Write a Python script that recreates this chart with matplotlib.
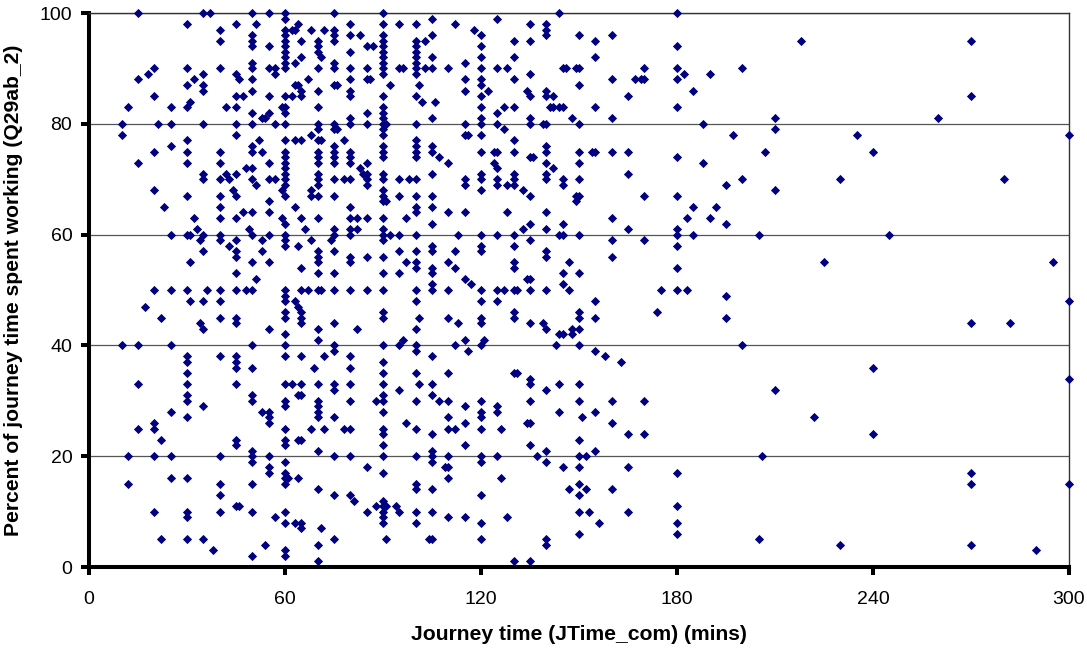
import matplotlib
matplotlib.use("Agg")
import matplotlib.pyplot as plt

plt.rcParams['font.family'] = ['Liberation Sans', 'DejaVu Sans']

# Journey times (mins) observed at each percent level
t100 = [15,35,37,50,55,60,75,90,144,180]
t99 = [60,105,125]
t98 = [30,45,51,64,80,90,95,100,112,135,140]
t97 = [40,60,62,63,68,72,75,118,140]
t96 = [50,60,75,80,83,90,105,120,140,150,160]
t95 = [40,50,60,65,70,75,90,100,103,130,135,155,218,270]
t94 = [50,55,60,70,85,87,90,100,120,180]
t93 = [60,70,80,90,100]
t92 = [60,65,71,90,100,105,120,130,155]
t91 = [50,60,63,75,90,100,115]
t90 = [20,30,40,50,55,57,60,70,75,80,85,90,95,96,100,103,105,110,120,125,128,145,146,149,150,170,180,200]
t89 = [18,35,45,57,90,100,135,182,190]
t88 = [15,32,46,50,67,80,85,86,115,120,130,160,167,169,170,180]
t87 = [30,35,63,64,75,76,92,101,120,150]
t86 = [35,50,65,70,80,115,122,134,140,185]
t85 = [20,45,47,55,60,62,65,80,90,100,120,135,140,142,165,270]
t84 = [31,102,106]
t83 = [12,25,30,42,45,59,60,70,90,120,127,130,141,142,144,145,155,180]
t82 = [50,55,60,85,90,125]
t81 = [53,54,80,90,105,120,135,148,160,210,260]
t80 = [10,21,25,35,45,50,57,60,70,75,80,85,90,91,100,115,120,125,135,139,140,150,188]
t79 = [70,75,76,90,127,210]
t78 = [10,45,68,90,115,116,120,197,235,300]
t77 = [30,52,60,63,65,70,71,78,100,130]
t76 = [25,50,75,90,100,105,140]
t75 = [20,30,40,50,53,60,70,75,80,90,100,105,120,124,125,130,140,150,154,155,160,165,207,240]
t74 = [60,70,75,80,90,100,107,135,136,180]
t73 = [15,30,40,55,60,70,75,80,85,110,124,140,150,188]
t72 = [48,50,60,83,125,142]
t71 = [35,42,45,60,70,84,85,90,105,120,130,140,165]
t70 = [35,40,43,50,55,57,60,70,75,78,80,85,90,95,98,100,115,120,125,130,140,145,150,200,230,280]
t69 = [51,60,70,85,115,125,128,130,145,195]
t68 = [20,44,59,68,90,120,133,210]
t67 = [30,40,45,60,68,70,75,90,95,100,105,135,149,150,170,180]
t66 = [55,90,91,149]
t65 = [23,40,63,80,100,105,185,192]
t64 = [47,50,55,100,110,115,128,140]
t63 = [32,40,45,59,65,70,80,82,85,90,97,160,183,190]
t62 = [60,105,135,145,195]
t61 = [33,49,66,75,80,82,90,133,140,165,180]
t60 = [25,30,31,35,40,50,55,60,75,80,90,92,95,100,113,120,125,130,144,145,150,180,185,205,245]
t59 = [34,40,45,53,60,68,74,90,135,160,170]
t58 = [43,60,64,105,120,130,180]
t57 = [35,45,53,70,75,95,100,105,112,120,140]
t56 = [45,70,80,85,90,140,160]
t55 = [31,50,55,70,80,97,100,110,130,147,225,295]
t54 = [65,100,105,112,130,180]
t53 = [45,70,75,90,95,105,145,150]
t52 = [51,115,134,135]
t51 = [105,117,145]
t50 = [20,25,30,36,40,45,48,50,60,65,67,70,71,75,80,85,90,100,105,110,120,125,127,130,131,135,140,147,175,180,183]
t49 = [60,195]
t48 = [31,35,40,60,63,100,120,125,155,300]
t47 = [17,64]
t46 = [60,65,90,130,150,174]
t45 = [22,40,45,60,65,90,101,110,120,130,150,155,195]
t44 = [34,45,65,75,113,120,135,139,270,282]
t43 = [35,55,70,82,100,140,148,150]
t42 = [60,144,145,148]
t41 = [70,96,115,121]
t40 = [10,15,25,50,60,75,90,95,100,112,120,143,150,200]
t39 = [75,100,116,155]
t38 = [30,40,45,60,65,72,80,105,158]
t37 = [30,45,90,163]
t36 = [45,50,69,80,240]
t35 = [30,90,100,110,130,131]
t34 = [135,300]
t33 = [15,30,45,60,62,65,70,75,80,90,101,105,135,144,150]
t32 = [75,95,140,210]
t31 = [30,50,64,65,90,105]
t30 = [30,50,60,70,80,88,90,100,107,110,120,135,150,160,170]
t29 = [35,60,70,115,125]
t28 = [25,53,55,70,90,120,125,144,155]
t27 = [30,55,70,75,110,120,151,222]
t26 = [20,55,97,115,134,135,160]
t25 = [15,20,60,68,72,78,80,90,100,110,112,120,126]
t24 = [90,105,165,170,240]
t23 = [22,45,60,64,65,150]
t22 = [45,60,90,115,135]
t21 = [50,70,105,140,155]
t20 = [12,20,25,40,50,55,75,80,90,100,105,110,120,125,137,150,152,206]
t19 = [50,60,105,120,140]
t18 = [55,85,109,110,145,150,165]
t17 = [55,60,90,180,270]
t16 = [25,30,60,61,64,110,126]
t15 = [12,40,50,60,100,150,270,300]
t14 = [70,100,105,147,152,160]
t13 = [40,75,80,120,150]
t12 = [81,90]
t11 = [45,46,88,90,91,94,180]
t10 = [20,30,40,50,60,85,90,95,100,105,150,153,165]
t9 = [30,57,90,110,115,128]
t8 = [60,63,65,90,100,120,156,180]
t7 = [65,71]
t6 = [150,180]
t5 = [22,30,35,75,91,104,105,120,140,205]
t4 = [54,70,140,230,270]
t3 = [38,60,290]
t2 = [50,60]
t1 = [70,130,135]

x_ticks = [0, 60, 120, 180, 240, 300]
y_ticks = [0, 20, 40, 60, 80, 100]
x_label = "Journey time (JTime_com) (mins)"
y_label = "Percent of journey time spent working (Q29ab_2)"

levels = {
    100:t100,99:t99,98:t98,97:t97,96:t96,95:t95,94:t94,93:t93,92:t92,91:t91,
    90:t90,89:t89,88:t88,87:t87,86:t86,85:t85,84:t84,83:t83,82:t82,81:t81,
    80:t80,79:t79,78:t78,77:t77,76:t76,75:t75,74:t74,73:t73,72:t72,71:t71,
    70:t70,69:t69,68:t68,67:t67,66:t66,65:t65,64:t64,63:t63,62:t62,61:t61,
    60:t60,59:t59,58:t58,57:t57,56:t56,55:t55,54:t54,53:t53,52:t52,51:t51,
    50:t50,49:t49,48:t48,47:t47,46:t46,45:t45,44:t44,43:t43,42:t42,41:t41,
    40:t40,39:t39,38:t38,37:t37,36:t36,35:t35,34:t34,33:t33,32:t32,31:t31,
    30:t30,29:t29,28:t28,27:t27,26:t26,25:t25,24:t24,23:t23,22:t22,21:t21,
    20:t20,19:t19,18:t18,17:t17,16:t16,15:t15,14:t14,13:t13,12:t12,11:t11,
    10:t10,9:t9,8:t8,7:t7,6:t6,5:t5,4:t4,3:t3,2:t2,1:t1,
}
xs = [t for p, ts in levels.items() for t in ts]
ys = [p for p, ts in levels.items() for t in ts]

W, H = 1087, 648
fig = plt.figure(figsize=(W/100, H/100), dpi=100, facecolor='white')
ax = fig.add_axes([89/W, 1-567/H, (1069-89)/W, (567-13)/H])

ax.set_xlim(0, 300)
ax.set_ylim(0, 100)
ax.set_xticks(x_ticks)
ax.set_yticks(y_ticks)
ax.yaxis.grid(True, color='#555555', linewidth=0.9)
ax.set_axisbelow(True)

ax.scatter(xs, ys, marker='D', s=22, color='#000080', linewidths=0, clip_on=False, zorder=5)

for s in ('left', 'bottom'):
    ax.spines[s].set_linewidth(2.9)
    ax.spines[s].set_color('black')
for s in ('top', 'right'):
    ax.spines[s].set_linewidth(1.0)
    ax.spines[s].set_color('#333333')

ax.tick_params(axis='both', length=6, width=2.9, color='black', labelsize=14, labelcolor='black')
ax.tick_params(axis='x', pad=11)
ax.tick_params(axis='y', pad=6)

fig.text(579/W, 1-635/H, x_label, ha='center', va='center', fontsize=15.2, fontweight='bold')
fig.text(14/W, 1-290/H, y_label, ha='center', va='center', rotation=90, fontsize=15.2, fontweight='bold')

fig.savefig('out.png', dpi=100)
